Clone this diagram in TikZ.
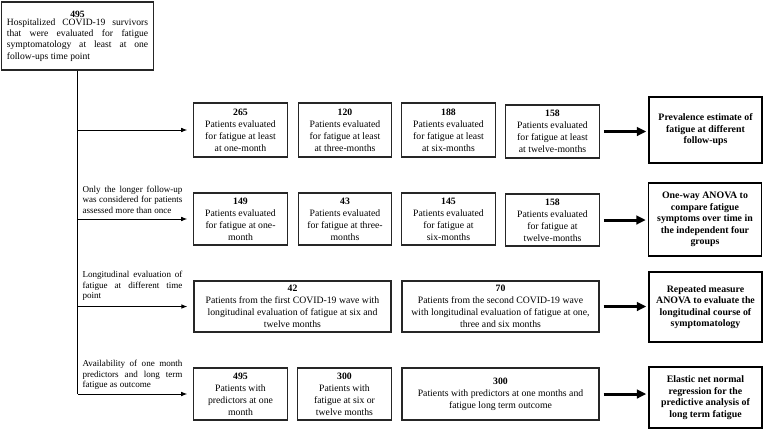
\documentclass[tikz,border=0pt]{standalone}
\usepackage{fontspec}
\setmainfont{Liberation Serif}
\usetikzlibrary{arrows.meta}

\tikzset{every picture/.style={line width=0.75pt}}

\begin{document}
\begin{tikzpicture}[x=0.75pt,y=0.75pt,yscale=-1,xscale=1,
  box/.style={draw=black!85, line width=0.9pt, inner sep=0pt, align=center, minimum width=70pt, font=\fontsize{7.3}{9}\selectfont},
  outbox/.style={draw=black, line width=1.2pt, inner sep=0pt, align=center, minimum width=84.75pt, font=\fontsize{7.4}{8.6}\selectfont\bfseries},
  note/.style={anchor=south west, inner sep=0pt, text width=75pt, align=justify, font=\fontsize{6.8}{7.9}\selectfont},
  feed/.style={-{Latex[length=4.5pt,width=3.5pt]}, shorten >=4.5pt},
  flow/.style={-{Triangle[length=7pt,width=6.5pt]}, line width=2.25pt, shorten <=3pt, shorten >=1.5pt}]
\useasboundingbox (0,0) rectangle (764,430);

%Shape: Rectangle
\draw (77.5,36) node [box, minimum width=114pt, minimum height=51pt, font=\fontsize{7.2}{8.5}\selectfont] (top) {\textbf{495}\\\parbox{106pt}{Hospitalized COVID-19 survivors\linebreak that were evaluated for fatigue\linebreak symptomatology at least at one\linebreak follow-ups time point}};

% Row 1
\draw (240.5,130) node [box, minimum height=40.5pt] (r1a) {\textbf{265}\\Patients evaluated\\for fatigue at least\\at one-month};
\draw (345,130) node [box, minimum height=40.5pt] (r1b) {\textbf{120}\\Patients evaluated\\for fatigue at least\\at three-months};
\draw (448.5,130) node [box, minimum height=40.5pt] (r1c) {\textbf{188}\\Patients evaluated\\for fatigue at least\\at six-months};
\draw (552.5,131.5) node [box, minimum height=39.75pt] (r1d) {\textbf{158}\\Patients evaluated\\for fatigue at least\\at twelve-months};
\draw (705.5,130) node [outbox, minimum height=49.5pt] (out1) {Prevalence estimate of\\fatigue at different\\follow-ups};

% Row 2
\draw (240.5,219) node [box, minimum height=39pt] (r2a) {\textbf{149}\\Patients evaluated\\for fatigue at one-\\month};
\draw (345,219) node [box, minimum height=39pt] (r2b) {\textbf{43}\\Patients evaluated\\for fatigue at three-\\months};
\draw (448.5,219) node [box, minimum height=39pt] (r2c) {\textbf{145}\\Patients evaluated\\for fatigue at\\six-months};
\draw (552.5,220) node [box, minimum height=39pt] (r2d) {\textbf{158}\\Patients evaluated\\for fatigue at\\twelve-months};
\draw (705,219.5) node [outbox, minimum height=54.75pt] (out2) {One-way ANOVA to\\compare fatigue\\symptoms over time in\\the independent four\\groups};

% Row 3
\draw (292.5,306.5) node [box, minimum width=147.75pt, minimum height=38.25pt] (r3a) {\textbf{42}\\Patients from the first COVID-19 wave with\\longitudinal evaluation of fatigue at six and\\twelve months};
\draw (500.5,306.5) node [box, minimum width=147.75pt, minimum height=38.25pt] (r3b) {\textbf{70}\\Patients from the second COVID-19 wave\\with longitudinal evaluation of fatigue at one,\\three and six months};
\draw (705.5,307) node [outbox, minimum height=52.5pt] (out3) {Repeated measure\\ANOVA to evaluate the\\longitudinal course of\\symptomatology};

% Row 4
\draw (240.5,394) node [box, minimum height=39pt] (r4a) {\textbf{495}\\Patients with\\predictors at one\\month};
\draw (344.5,394) node [box, minimum height=39pt] (r4b) {\textbf{300}\\Patients with\\fatigue at six or\\twelve months};
\draw (500.5,394) node [box, minimum width=147.75pt, minimum height=39pt] (r4c) {\textbf{300}\\Patients with predictors at one months and\\fatigue long term outcome};
\draw (705.5,397.5) node [outbox, minimum height=45.75pt] (out4) {Elastic net normal\\regression for the\\predictive analysis of\\long term fatigue};

% Text Node
\draw (82,214) node [note] (n2) {Only the longer follow-up\linebreak was considered for patients\linebreak assessed more than once};
% Text Node
\draw (82,301) node [note] (n3) {Longitudinal evaluation of\linebreak fatigue at different time\linebreak point};
% Text Node
\draw (82,390) node [note] (n4) {Availability of one month\linebreak predictors and long term\linebreak fatigue as outcome};

%Straight Lines
\draw (top.south) -- (top.south |- r4a.west);
\draw [feed] (top.south |- r1a.west) -- (r1a.west);
\draw [feed] (top.south |- r2a.west) -- (r2a.west);
\draw [feed] (top.south |- r3a.west) -- (r3a.west);
\draw [feed] (top.south |- r4a.west) -- (r4a.west);

%Straight Lines
\draw [flow] (r1d.east) -- (r1d.east -| out1.west);
\draw [flow] (r2d.east) -- (r2d.east -| out2.west);
\draw [flow] (r3b.east) -- (r3b.east -| out3.west);
\draw [flow] (r4c.east) -- (r4c.east -| out4.west);

\end{tikzpicture}
\end{document}
